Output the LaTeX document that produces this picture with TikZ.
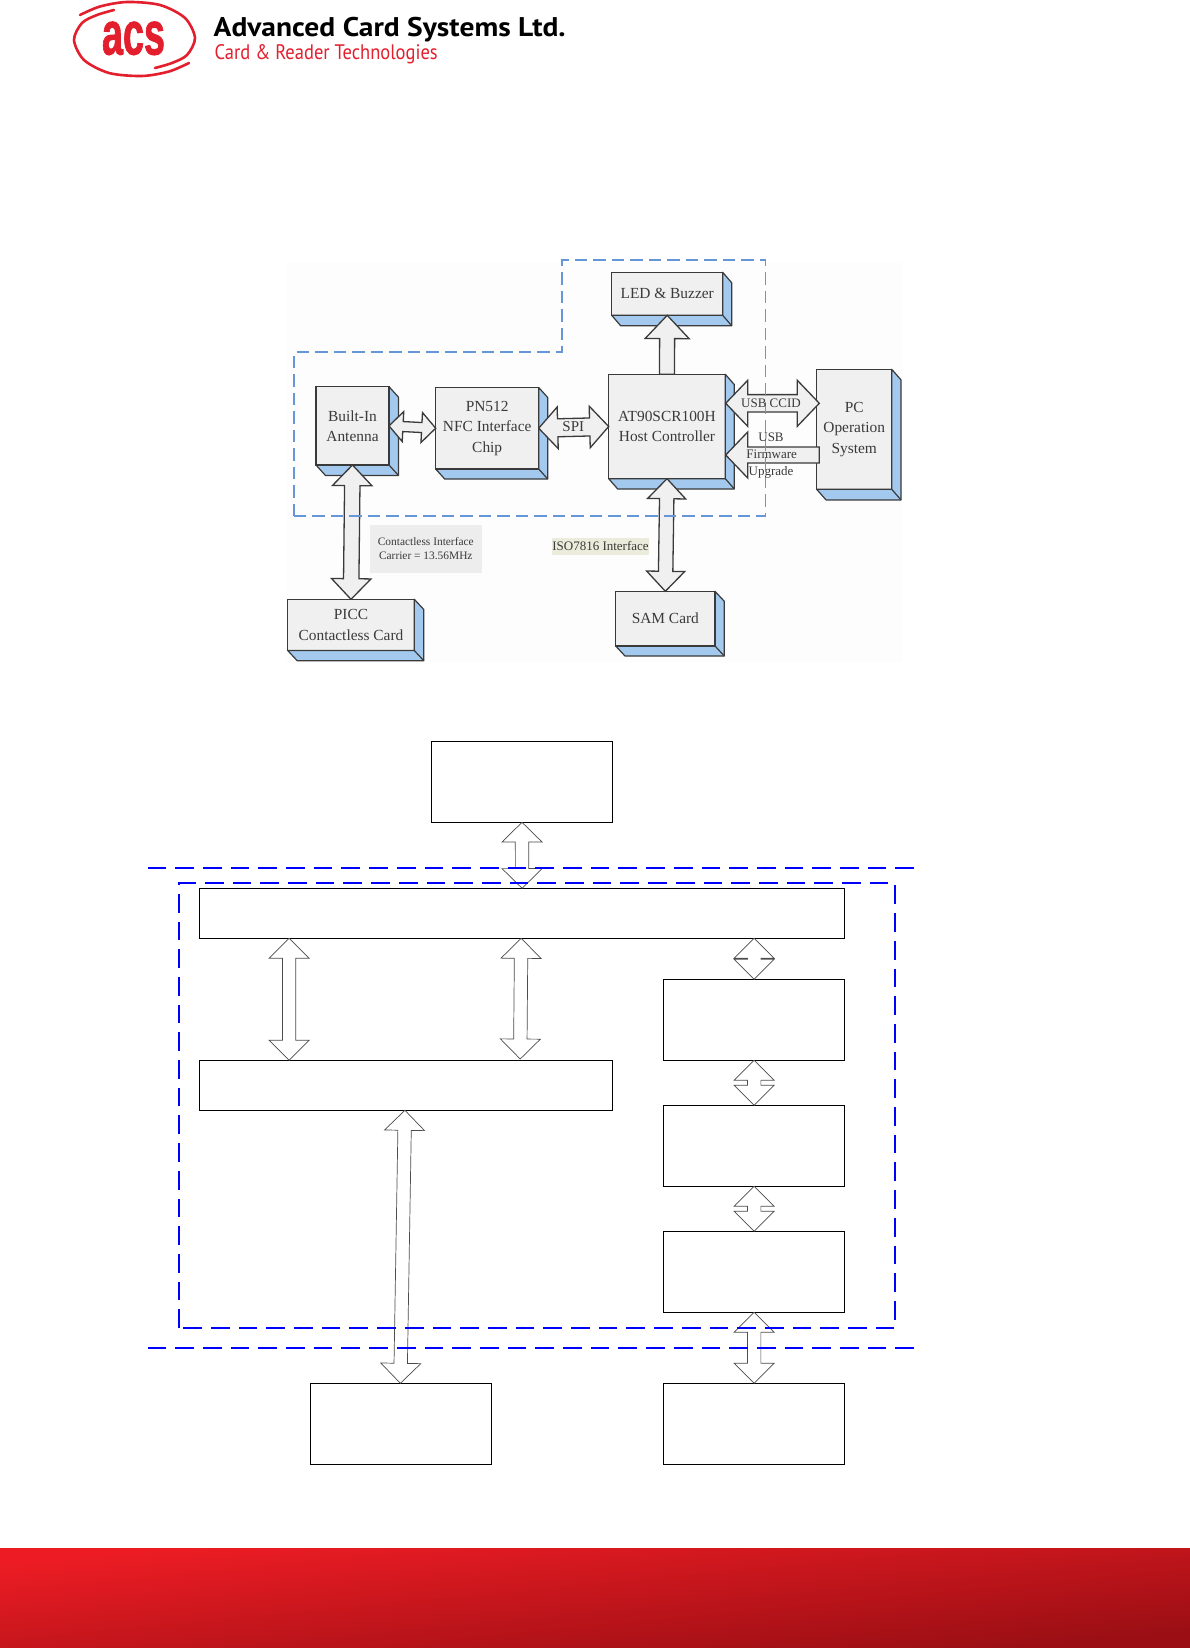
\documentclass[tikz,border=0pt]{standalone}
\usepackage{fontspec}
\setmainfont{Liberation Serif}
\newfontfamily\logofont{PT Sans}
\newfontfamily\acsfont[FakeBold=1.6]{Liberation Sans}
\usetikzlibrary{calc}
\definecolor{acsred}{HTML}{E31E2D}
\definecolor{footA}{HTML}{ED1C24}
\definecolor{footB}{HTML}{9B0F14}
\definecolor{sideblue}{HTML}{A3C9EF}
\definecolor{frontgray}{HTML}{F0F0F0}
\definecolor{inkgray}{HTML}{3A3A3A}
\definecolor{dashold}{HTML}{6496D8}
\definecolor{isotint}{HTML}{ECECDC}
\definecolor{pureblue}{RGB}{0,0,255}
\tikzset{
  plainbox/.style={draw=black,line width=1.2pt,fill=white,inner sep=0pt,outer sep=0pt},
  frontbox/.style={draw=inkgray,line width=1.4pt,fill=frontgray,inner sep=0pt,outer sep=0pt,
     align=center,text=inkgray,font=\fontsize{15.4}{20.4}\selectfont},
  sideface/.style={draw=inkgray,line width=1.2pt,fill=sideblue,line join=round},
  frontedge/.style={draw=inkgray,line width=1.4pt},
  solidarrow/.style={draw=inkgray,line width=1.3pt,fill=frontgray,line join=miter},
  thinarrow/.style={draw=black!70,line width=0.7pt,fill=white,line join=miter},
  newdash/.style={draw=pureblue,line width=2.3pt,dash pattern=on 18.7pt off 9pt},
  olddash/.style={draw=dashold,line width=1.3pt,dash pattern=on 12.5pt off 6pt},
  label/.style={inner sep=0pt,outer sep=0pt,text=inkgray,align=center},
  logoline/.style={draw=acsred,line width=2.6pt,line cap=round}
}
% name x1 y1 x2 y2 style text
\newcommand\bx[7]{\node[#6,minimum width={#4pt-#2pt},minimum height={#5pt-#3pt}] (#1) at ({(#2+#4)/2},{(#3+#5)/2}) {#7};}
% name x1 y1 x2 y2 depthx depthy text
\newcommand\solidbox[8]{%
  \bx{#1}{#2}{#3}{#4}{#5}{frontbox}{}%
  \draw[sideface] (#1.north east) -- ($(#1.north east)+(#6,#7)$) -- ($(#1.south east)+(#6,#7)$) -- ($(#1.south west)+(#6,#7)$) -- (#1.south west) -- (#1.south east) -- cycle;
  \draw[sideface] (#1.south east) -- ($(#1.south east)+(#6,#7)$);
  \draw[frontedge] (#1.north west) rectangle (#1.south east);
  \node[frontbox,draw=none,fill=none] at (#1.center) {#8};}
% style a b headhalf headlen shafthalf
\newcommand\fatarrow[6]{%
  \coordinate (fa) at (#2); \coordinate (fb) at (#3);
  \coordinate (fa1) at ($(fa)!#5pt!(fb)$); \coordinate (fb1) at ($(fb)!#5pt!(fa)$);
  \draw[#1] (fa) -- ($(fa1)!#4pt!90:(fb)$) -- ($(fa1)!#6pt!90:(fb)$) -- ($(fb1)!#6pt!-90:(fa)$) -- ($(fb1)!#4pt!-90:(fa)$) -- (fb) -- ($(fb1)!#4pt!90:(fa)$) -- ($(fb1)!#6pt!90:(fa)$) -- ($(fa1)!#6pt!-90:(fb)$) -- ($(fa1)!#4pt!-90:(fb)$) -- cycle;}
% single headed: style tip tail headhalf headlen shafthalf
\newcommand\fatarrowone[6]{%
  \coordinate (fa) at (#2); \coordinate (fb) at (#3);
  \coordinate (fa1) at ($(fa)!#5pt!(fb)$);
  \draw[#1] (fa) -- ($(fa1)!#4pt!90:(fb)$) -- ($(fa1)!#6pt!90:(fb)$) -- ($(fb)!#6pt!-90:(fa)$) -- ($(fb)!#6pt!90:(fa)$) -- ($(fa1)!#6pt!-90:(fb)$) -- ($(fa1)!#4pt!-90:(fb)$) -- cycle;}
\begin{document}
\begin{tikzpicture}[x=1pt,y=-1pt]
\useasboundingbox (0,0) rectangle (1190,1648);
\fill[white] (0,0) rectangle (1190,1648);

% ---------- logo
\draw[logoline] plot[smooth] coordinates {(80,15) (100,6.5) (127,2) (160,5) (185,18) (195,38) (187,55) (172,63) (155,68)};
\draw[logoline] plot[smooth] coordinates {(189,63) (169,71.5) (142,76) (109,73) (84,60) (74,40) (82,23) (97,15) (114,10)};
\node[inner sep=0pt,anchor=base,text=acsred] (acs) at (133.5,54.5) {\resizebox{63pt}{\height}{\acsfont\bfseries\fontsize{61}{61}\selectfont acs}};
\node[inner sep=0pt,anchor=base west] (brand) at (213.5,37) {\resizebox{352pt}{\height}{\logofont\bfseries\fontsize{27}{27}\selectfont Advanced Card Systems Ltd.}};
\node[inner sep=0pt,anchor=base west,text=acsred] (tag) at (214.5,59.5) {\resizebox{223pt}{\height}{\logofont\fontsize{21}{21}\selectfont Card \& Reader Technologies}};

% ---------- old diagram
\fill[black!0.7] (287,263) rectangle (902,662);
\fill[black!7] (370,525) rectangle (482.3,573.3);
\node[label,font=\fontsize{11.4}{14}\selectfont] (ci) at (425.8,548.5) {Contactless Interface\\Carrier = 13.56MHz};
\fill[isotint] (551.7,538.3) rectangle (649.3,555);
\node[label,font=\fontsize{13}{14}\selectfont] (iso) at (600.5,546) {ISO7816 Interface};

\solidbox{built}{316}{386.7}{389}{465}{9.5}{10.5}{Built-In\\[-0.6pt]Antenna}
\solidbox{pn}{435.7}{387.5}{538.7}{469}{9}{10}{PN512\\NFC Interface\\Chip}
\solidbox{picc}{287.7}{599.3}{414.3}{650.5}{9.5}{10.2}{PICC\\Contactless Card}
\solidbox{led}{611.7}{272.3}{722.7}{315.3}{9}{10.5}{LED \& Buzzer}
\solidbox{at}{608.7}{374.3}{725.3}{478.7}{9}{10.3}{AT90SCR100H\\Host Controller}
\solidbox{pc}{816.7}{369.3}{891.7}{489.3}{9.3}{10.6}{PC\\Operation\\System}
\solidbox{sam}{615.7}{591.3}{715}{646}{9.3}{10}{SAM Card}

\coordinate (ccidL) at (725.7,403.3);
\coordinate (ccidR) at (819.3,403.3);
\coordinate (fwL) at (725.7,455);
\coordinate (fwR) at (819.3,455);
\fatarrow{solidarrow}{built.east}{pn.west}{15}{14}{5}
\fatarrow{solidarrow}{pn.east}{at.west}{20.8}{19}{9}
\fatarrow{solidarrow}{built.south}{picc.north}{19.7}{20.6}{7.7}
\fatarrowone{solidarrow}{led.south}{at.north}{22}{23.3}{7.5}
\fatarrow{solidarrow}{at.south}{sam.north}{19}{20}{7.2}
\fatarrow{solidarrow}{ccidL}{ccidR}{23}{22}{8.7}
\fatarrowone{solidarrow}{fwL}{fwR}{23}{22}{8}
\draw[olddash] (294,516) -- (294,352) -- (562,352) -- (562,260) -- (765.7,260) -- (765.7,516) -- cycle;

\node[label,font=\fontsize{15}{15}\selectfont] (spi) at (573.3,426.7) {SPI};
\node[label,font=\fontsize{13}{13}\selectfont] (ccid) at (771,403.5) {USB CCID};
\node[label,font=\fontsize{13}{13}\selectfont] (usb) at (771,437.5) {USB};
\node[label,font=\fontsize{13}{13}\selectfont] (fw) at (771.7,454.5) {Firmware};
\node[label,font=\fontsize{13}{13}\selectfont] (ug) at (771,472.5) {Upgrade};

% ---------- new diagram
\bx{top}{431.3}{741.3}{612.7}{822.3}{plainbox}{}
\bx{barA}{199.6}{888.3}{844.6}{938.3}{plainbox}{}
\bx{barB}{199.6}{1060.3}{612.7}{1110.3}{plainbox}{}
\bx{ra}{663.7}{979.3}{844.6}{1060.3}{plainbox}{}
\bx{rb}{663.7}{1105.3}{844.6}{1186.3}{plainbox}{}
\bx{rc}{663.7}{1231.3}{844.6}{1312.3}{plainbox}{}
\bx{bl}{310.5}{1383.3}{491.4}{1464.3}{plainbox}{}
\bx{br}{663.7}{1383.3}{844.6}{1464.3}{plainbox}{}

\coordinate (lA) at (289.1,938.3);
\coordinate (lB) at (289.1,1060.3);
\coordinate (mA) at (521.2,938.3);
\coordinate (mB) at (520.2,1059);
\coordinate (xA) at (404.9,1110.3);
\coordinate (xB) at (400.4,1383.3);
\fatarrow{thinarrow}{top.south}{barA.north}{20}{19.7}{6.7}
\fatarrow{thinarrow}{lA}{lB}{20}{20}{6.7}
\fatarrow{thinarrow}{mA}{mB}{20}{20}{6.7}
\fatarrow{thinarrow}{ra.north |- barA.south}{ra.north}{20}{20}{6.7}
\fatarrow{thinarrow}{ra.south}{rb.north}{20}{20}{6.7}
\fatarrow{thinarrow}{rb.south}{rc.north}{20}{20}{6.7}
\fatarrow{thinarrow}{rc.south}{br.north}{20}{20}{6.7}
\fatarrow{thinarrow}{xA}{xB}{20}{20}{6.7}

\draw[newdash] (147.5,867.7) -- (917,867.7);
\draw[newdash] (147.5,1348) -- (917,1348);
\draw[newdash] (179,1328) -- (179,883) -- (895,883) -- (895,1328) -- cycle;

% ---------- footer band
\begin{scope}
\clip (0,1548) rectangle (1190,1648);
\foreach \t in {0,1,...,213}{
  \pgfmathsetmacro\m{min(100,max(0,(\t-15)/180*100))}
  \fill[footB!\m!footA] (0,1548+\t) -- (1190,1548+\t-113) -- (1190,1700) -- (0,1700) -- cycle;
}
\end{scope}
\end{tikzpicture}
\end{document}
